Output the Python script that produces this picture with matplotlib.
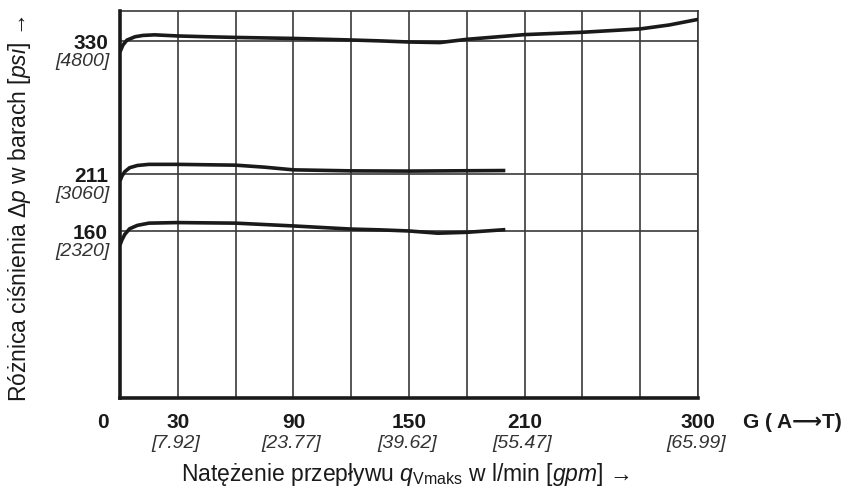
import matplotlib
matplotlib.use("Agg")
import matplotlib.pyplot as plt

SANS = ["Liberation Sans", "DejaVu Sans"]
plt.rcParams["font.family"] = SANS
plt.rcParams["mathtext.fontset"] = "custom"
plt.rcParams["mathtext.rm"] = "Liberation Sans"
plt.rcParams["mathtext.it"] = "Liberation Sans:italic"

# data (l/min vs bar)
x_330 = [0, 1.5, 3.6, 7.8, 12, 18, 30, 45, 60, 90, 120, 135, 150, 166, 180, 210, 240, 270, 285, 300]
y_330 = [320, 326, 330.5, 333.5, 334.7, 335.2, 334.2, 333.5, 332.9, 332, 330.6, 329.8, 328.8, 328.3, 331.2, 335.4, 337.5, 340.5, 344, 349]

x_211 = [0, 1, 2.5, 5, 9, 15, 30, 60, 75, 90, 120, 150, 180, 200]
y_211 = [204.7, 209, 213, 216.5, 218.5, 219.5, 219.5, 218.8, 217, 214.6, 213.7, 213.5, 213.8, 214]

x_160 = [0, 1, 2.5, 5, 9, 15, 30, 60, 90, 120, 135, 150, 165, 180, 200]
y_160 = [147.5, 152, 157, 162, 165, 167, 167.5, 167, 164.5, 161.7, 161, 160, 158, 158.8, 161.2]

grid_x = list(range(0, 301, 30))
grid_y = [160, 211, 330]

x_ticks = [30, 90, 150, 210, 300]
x_ticks_gpm = ["[7.92]", "[23.77]", "[39.62]", "[55.47]", "[65.99]"]
y_ticks = [330, 211, 160]
y_ticks_psi = ["[4800]", "[3060]", "[2320]"]

fig = plt.figure(figsize=(8.41, 4.92), dpi=100)
ax = fig.add_axes([120 / 841, 1 - 398 / 492, 578 / 841, 387 / 492])
ax.set_xlim(0, 300)
ax.set_ylim(10.8, 356.5)

for gx in grid_x:
    ax.axvline(gx, color="#3a3a3a", lw=1.2, zorder=1)
for gy in grid_y:
    ax.axhline(gy, color="#3a3a3a", lw=1.2, zorder=1)

for xs, ys in [(x_330, y_330), (x_211, y_211), (x_160, y_160)]:
    ax.plot(xs, ys, color="#1a1a1a", lw=2.6, solid_capstyle="butt", zorder=3)

ax.set_xticks([])
ax.set_yticks([])
for s in ["top", "right"]:
    ax.spines[s].set_color("#3a3a3a")
    ax.spines[s].set_linewidth(1.2)
for s in ["left", "bottom"]:
    ax.spines[s].set_color("#1a1a1a")
    ax.spines[s].set_linewidth(2.6)
    ax.spines[s].set_zorder(4)

num = dict(fontweight="bold", fontsize=15, color="#1a1a1a")
ital = dict(fontstyle="italic", fontsize=14, color="#333333")

# x tick labels
for v, g in zip(x_ticks, x_ticks_gpm):
    ax.annotate(str(v), xy=(v, 0), xycoords=("data", "axes fraction"), xytext=(0, -25),
                textcoords="offset pixels", ha="center", va="center", **num)
    ax.annotate(g, xy=(v, 0), xycoords=("data", "axes fraction"), xytext=(-2, -46),
                textcoords="offset pixels", ha="center", va="center", **ital)
ax.annotate("0", xy=(0, 0), xycoords=("data", "axes fraction"), xytext=(-17, -25),
            textcoords="offset pixels", ha="center", va="center", **num)
ax.annotate("G ( A\u27f6T)", xy=(300, 0), xycoords=("data", "axes fraction"), xytext=(45, -25),
            textcoords="offset pixels", ha="left", va="center", **num)

# y tick labels
for v, p in zip(y_ticks, y_ticks_psi):
    ax.annotate(str(v), xy=(0, v), xycoords=("axes fraction", "data"), xytext=(-12, -3),
                textcoords="offset pixels", ha="right", va="center", **num)
    ax.annotate(p, xy=(0, v), xycoords=("axes fraction", "data"), xytext=(-10, -21),
                textcoords="offset pixels", ha="right", va="center", **ital)

fig.text(181 / 841, 1 - 474 / 492,
         r"Natężenie przepływu $\mathit{q}_{\mathrm{Vmaks}}$ w l/min $\mathit{[gpm]}$ →",
         ha="left", va="center", fontsize=16.5, color="#1a1a1a")
fig.text(20 / 841, 1 - 209 / 492,
         r"Różnica ciśnienia Δ$\mathit{p}$ w barach $\mathit{[psi]}$ →",
         ha="center", va="center", rotation=90, fontsize=16.5, color="#1a1a1a")

fig.savefig("out.png", dpi=100)
